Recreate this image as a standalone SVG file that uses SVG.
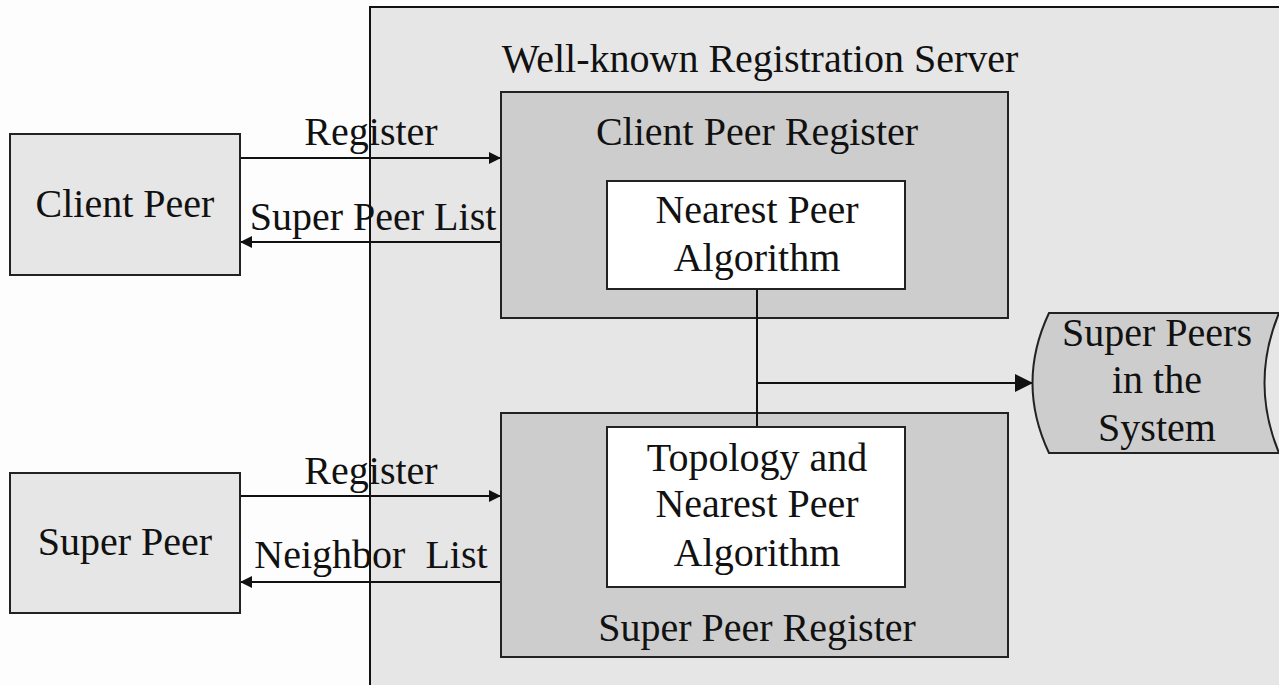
<svg xmlns="http://www.w3.org/2000/svg" width="1279" height="685" viewBox="0 0 1279 685">
  <style>
    text { font-family: "Liberation Serif", "Times New Roman", serif; font-size: 40px; fill: #111; text-anchor: middle; }
    .peer { fill: #e6e6e6; stroke: #222; stroke-width: 2; }
    .reg { fill: #cdcdcd; stroke: #222; stroke-width: 2; }
    .algo { fill: #ffffff; stroke: #222; stroke-width: 2; }
    .line { fill: none; stroke: #111; stroke-width: 2; }
  </style>
  <defs>
    <marker id="arrow" viewBox="0 0 10 10" refX="10" refY="5" markerWidth="6" markerHeight="6" orient="auto" markerUnits="strokeWidth">
      <path d="M0,0 L10,5 L0,10 z" fill="#111"/>
    </marker>
    <marker id="arrowBig" viewBox="0 0 10 10" refX="10" refY="5" markerWidth="9" markerHeight="9" orient="auto" markerUnits="strokeWidth">
      <path d="M0,0 L10,5 L0,10 z" fill="#111"/>
    </marker>
  </defs>

  <!-- page background -->
  <rect x="0" y="0" width="1279" height="685" fill="#fdfdfd"/>

  <!-- registration server area (open to the right and bottom) -->
  <g id="server">
    <rect x="370" y="7" width="920" height="700" fill="#e6e6e6"/>
    <path d="M370,690 L370,7 L1279,7" class="line"/>
    <text x="760" y="72">Well-known Registration Server</text>
  </g>

  <!-- connectors -->
  <g id="connectors">
    <line x1="240" y1="158" x2="501" y2="158" class="line" marker-end="url(#arrow)"/>
    <line x1="501" y1="242" x2="240" y2="242" class="line" marker-end="url(#arrow)"/>
    <line x1="240" y1="496" x2="501" y2="496" class="line" marker-end="url(#arrow)"/>
    <line x1="501" y1="582" x2="240" y2="582" class="line" marker-end="url(#arrow)"/>
    <line x1="757" y1="383" x2="1033" y2="383" class="line" marker-end="url(#arrowBig)"/>
  </g>

  <!-- connector labels -->
  <g id="labels">
    <text x="371" y="145">Register</text>
    <text x="373" y="230">Super Peer List</text>
    <text x="371" y="484">Register</text>
    <text x="371" y="568" xml:space="preserve">Neighbor  List</text>
  </g>

  <g id="client-peer">
    <rect x="10" y="134" width="230" height="141" class="peer"/>
    <text x="125" y="217">Client Peer</text>
  </g>

  <g id="super-peer">
    <rect x="10" y="473" width="230" height="140" class="peer"/>
    <text x="125" y="555">Super Peer</text>
  </g>

  <g id="client-peer-register">
    <rect x="501" y="92" width="507" height="226" class="reg"/>
    <text x="757" y="145">Client Peer Register</text>
  </g>

  <g id="super-peer-register">
    <rect x="501" y="413" width="507" height="244" class="reg"/>
    <text x="757" y="641">Super Peer Register</text>
  </g>

  <!-- link between the two algorithm boxes -->
  <g id="algo-link">
    <line x1="757" y1="289" x2="757" y2="427" class="line"/>
  </g>

  <g id="nearest-peer-algorithm">
    <rect x="607" y="181" width="298" height="108" class="algo"/>
    <text x="757" y="223">Nearest Peer</text>
    <text x="757" y="271">Algorithm</text>
  </g>

  <g id="topology-algorithm">
    <rect x="607" y="427" width="298" height="160" class="algo"/>
    <text x="757" y="471">Topology and</text>
    <text x="757" y="517">Nearest Peer</text>
    <text x="757" y="566">Algorithm</text>
  </g>

  <g id="super-peers-store">
    <path d="M1049,313 L1279,313 Q1250,383 1279,453 L1049,453 Q1016,383 1049,313 Z" class="reg"/>
    <text x="1157" y="346">Super Peers</text>
    <text x="1157" y="393">in the</text>
    <text x="1157" y="441">System</text>
  </g>
</svg>
